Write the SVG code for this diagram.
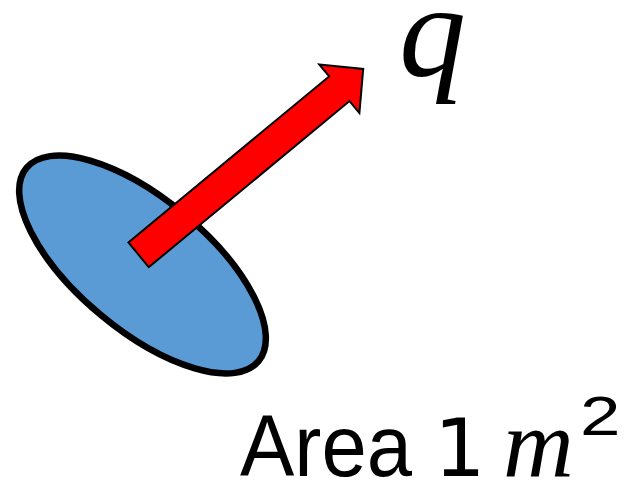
<svg xmlns="http://www.w3.org/2000/svg" width="634" height="483" viewBox="0 0 634 483">
<style>
.disk{fill:#5b9bd5;stroke:#000;stroke-width:6.5}
.arrow{fill:#ff0000;stroke:#000;stroke-width:2;stroke-linejoin:miter}
.math{font-family:"Liberation Serif",serif;font-style:italic;fill:#000}
.lbl{font-family:"Liberation Sans",sans-serif;fill:#000}
</style>
<rect width="634" height="483" fill="#fff"/>
<g id="area-disk">
<ellipse class="disk" cx="142.5" cy="264.5" rx="151" ry="65.5" transform="rotate(39.8 142.5 264.5)"/>
</g>
<g id="connectors">
<path class="arrow" transform="translate(138.6 254.8) rotate(-39.6)" d="M0,-16 L260.5,-16 L260.5,-31.5 L291.5,0 L260.5,31.5 L260.5,16 L0,16 Z"/>
</g>
<g id="q-label">
<text class="math" x="399" y="76" font-size="134">q</text>
</g>
<g id="area-label">
<text class="lbl" x="240" y="476" font-size="88" textLength="172" lengthAdjust="spacingAndGlyphs">Area</text>
<text x="434" y="476" font-size="81" style="font-family:'DejaVu Sans',sans-serif" fill="#000">1</text>
<text class="math" x="503" y="476" font-size="98">m</text>
<text class="lbl" font-size="56" transform="translate(580 435) scale(1.3 1)">2</text>
</g>
</svg>
